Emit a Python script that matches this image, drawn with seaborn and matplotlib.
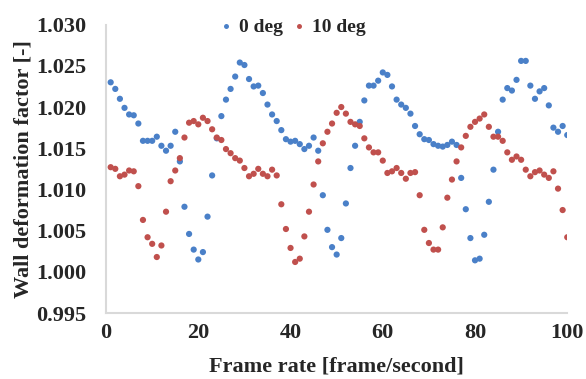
import seaborn as sns
import pandas as pd
import matplotlib.pyplot as plt

# frame rate axis (1..100)
frames = list(range(1, 101))

# wall deformation factor, 0 deg
deg0 = [
    1.0230, 1.0222, 1.0210, 1.0199, 1.0191, 1.0190, 1.0180, 1.0159, 1.0159, 1.0159,
    1.0164, 1.0153, 1.0147, 1.0153, 1.0170, 1.0134, 1.0079, 1.0046, 1.0027, 1.0015,
    1.0024, 1.0067, 1.0117, 1.0162, 1.0189, 1.0209, 1.0222, 1.0237, 1.0254, 1.0251,
    1.0234, 1.0225, 1.0226, 1.0217, 1.0203, 1.0191, 1.0183, 1.0172, 1.0161, 1.0158,
    1.0159, 1.0155, 1.0149, 1.0153, 1.0163, 1.0147, 1.0093, 1.0051, 1.0030, 1.0021,
    1.0041, 1.0083, 1.0126, 1.0153, 1.0182, 1.0208, 1.0226, 1.0226, 1.0232, 1.0242,
    1.0239, 1.0225, 1.0209, 1.0203, 1.0199, 1.0192, 1.0177, 1.0167, 1.0161, 1.0160,
    1.0155, 1.0153, 1.0152, 1.0154, 1.0158, 1.0154, 1.0114, 1.0076, 1.0041, 1.0014,
    1.0016, 1.0045, 1.0085, 1.0124, 1.0170, 1.0209, 1.0223, 1.0220, 1.0233, 1.0256,
    1.0256, 1.0226, 1.0210, 1.0219, 1.0223, 1.0202, 1.0175, 1.0170, 1.0177, 1.0166,
]

# wall deformation factor, 10 deg
deg10 = [
    1.0127, 1.0125, 1.0116, 1.0118, 1.0123, 1.0122, 1.0104, 1.0063, 1.0042, 1.0034,
    1.0018, 1.0032, 1.0073, 1.0110, 1.0123, 1.0138, 1.0163, 1.0181, 1.0183, 1.0179,
    1.0187, 1.0183, 1.0173, 1.0163, 1.0160, 1.0149, 1.0144, 1.0138, 1.0135, 1.0126,
    1.0116, 1.0119, 1.0125, 1.0119, 1.0116, 1.0124, 1.0117, 1.0082, 1.0052, 1.0029,
    1.0012, 1.0016, 1.0043, 1.0073, 1.0106, 1.0134, 1.0156, 1.0170, 1.0180, 1.0193,
    1.0200, 1.0192, 1.0182, 1.0179, 1.0177, 1.0162, 1.0151, 1.0145, 1.0145, 1.0135,
    1.0120, 1.0122, 1.0126, 1.0120, 1.0113, 1.0120, 1.0121, 1.0093, 1.0051, 1.0035,
    1.0027, 1.0027, 1.0054, 1.0090, 1.0112, 1.0134, 1.0151, 1.0165, 1.0176, 1.0182,
    1.0186, 1.0191, 1.0176, 1.0164, 1.0164, 1.0159, 1.0145, 1.0136, 1.0140, 1.0136,
    1.0124, 1.0116, 1.0121, 1.0123, 1.0118, 1.0114, 1.0122, 1.0101, 1.0075, 1.0042,
]

series_names = ["0 deg", "10 deg"]
colors = ["#4a80c8", "#c0504d"]

x_ticks = [0, 20, 40, 60, 80, 100]
y_ticks = [0.995, 1.000, 1.005, 1.010, 1.015, 1.020, 1.025, 1.030]

df = pd.concat(
    [
        pd.DataFrame({"frame": frames, "factor": deg0, "series": series_names[0]}),
        pd.DataFrame({"frame": frames, "factor": deg10, "series": series_names[1]}),
    ],
    ignore_index=True,
)

sns.set_style("white")
plt.rcParams["font.family"] = ["Liberation Serif", "DejaVu Serif"]
plt.rcParams["font.weight"] = "bold"

fig = plt.figure(figsize=(5.86, 3.79), dpi=100)
ax = fig.add_axes([0.181, 0.174, 0.787, 0.761])

sns.scatterplot(
    data=df, x="frame", y="factor", hue="series",
    palette=colors, s=20, linewidth=0, ax=ax,
)

ax.set_xlim(0, 100)
ax.set_ylim(0.995, 1.030)
ax.set_xticks(x_ticks)
ax.set_yticks(y_ticks)
ax.set_yticklabels([f"{v:.3f}" for v in y_ticks])
ax.tick_params(axis="both", length=0, labelsize=16)
ax.tick_params(axis="x", pad=7)
ax.tick_params(axis="y", pad=14)

ax.set_xlabel("Frame rate [frame/second]", fontsize=16, fontweight="bold", labelpad=10)
ax.set_ylabel("Wall deformation factor [-]", fontsize=16, fontweight="bold", labelpad=2)

for side in ["top", "right"]:
    ax.spines[side].set_visible(False)
for side in ["left", "bottom"]:
    ax.spines[side].set_color("#d9d9d9")
    ax.spines[side].set_linewidth(1.5)

ax.legend(
    loc="center", bbox_to_anchor=(0.403, 0.99), ncol=2, frameon=False,
    fontsize=14, markerscale=0.8, handlelength=0.8, handletextpad=0.3,
    columnspacing=0.4, borderaxespad=0,
)

fig.savefig("out.png", dpi=100)
